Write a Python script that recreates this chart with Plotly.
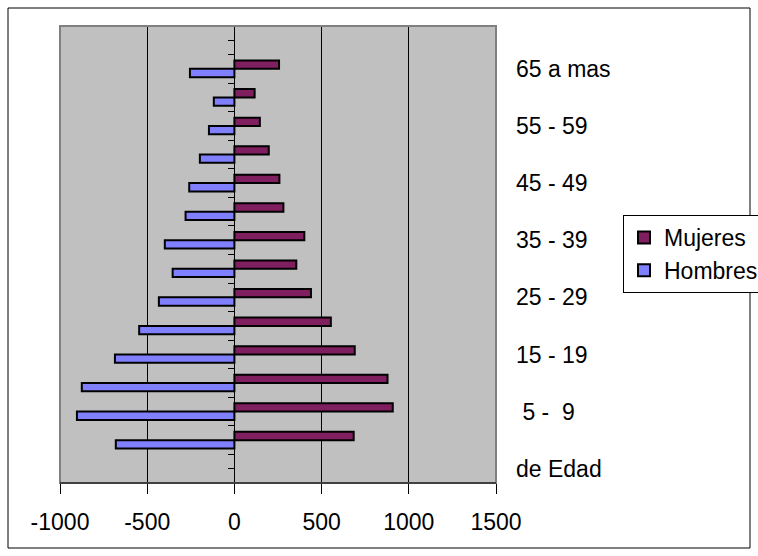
import plotly.graph_objects as go

categories = ["de Edad", " 0 -  4", " 5 -  9", "10 - 14", "15 - 19", "20 - 24",
              "25 - 29", "30 - 34", "35 - 39", "40 - 44", "45 - 49", "50 - 54",
              "55 - 59", "60 - 64", "65 a mas"]
mujeres = [None, 684, 908, 878, 690, 553, 439, 355, 401, 281, 258, 197, 146, 116, 256]
hombres = [None, -680, -903, -875, -685, -546, -433, -354, -399, -280, -259, -198, -146, -118, -255]
shown_labels = ["de Edad", " 5 -  9", "15 - 19", "25 - 29", "35 - 39", "45 - 49", "55 - 59", "65 a mas"]
x_ticks = [-1000, -500, 0, 500, 1000, 1500]
x_tick_text = ["-1000", "-500", "0", "500", "1000", "1500"]

def nb(s):
    return s.replace(" ", "\u00a0")

cats = [nb(c) for c in categories]
labels = [nb(c) for c in shown_labels]

FONT = "Liberation Sans, Arial, sans-serif"
FS = 23

fig = go.Figure()
fig.add_trace(go.Bar(y=cats, x=hombres, orientation="h", name="Hombres",
                     marker=dict(color="#8080FF", line=dict(color="black", width=2))))
fig.add_trace(go.Bar(y=cats, x=mujeres, orientation="h", name="Mujeres",
                     marker=dict(color="#801F60", line=dict(color="black", width=2))))
# helper trace for the tick-mark axis
fig.add_trace(go.Scatter(x=[0], y=[0], yaxis="y2", mode="markers",
                         marker=dict(opacity=0), showlegend=False, hoverinfo="skip"))

L, R, T, B = 60, 262, 26, 73
W, H = 758, 556
pw, ph = W - L - R, H - T - B

def px(x):
    return (x - L) / pw

def py(y):
    return (H - B - y) / ph

fig.update_layout(
    width=W, height=H,
    margin=dict(l=L, r=R, t=T, b=B, pad=0, autoexpand=False),
    paper_bgcolor="white", plot_bgcolor="#C0C0C0",
    barmode="group", bargap=0.42, bargroupgap=0,
    font=dict(family=FONT, size=FS, color="black"),
    showlegend=True,
    legend=dict(x=px(623), y=py(215), xanchor="left", yanchor="top",
                traceorder="reversed", bgcolor="white", bordercolor="black",
                borderwidth=1, font=dict(family=FONT, size=FS, color="black"),
                tracegroupgap=0),
    xaxis=dict(range=[-1000, 1500], tickvals=x_ticks, ticktext=x_tick_text,
               showgrid=True, gridcolor="black", gridwidth=1, zeroline=True,
               zerolinecolor="black", zerolinewidth=1, ticks="outside", ticklen=10,
               tickcolor="black", tickwidth=1, showline=False, fixedrange=True,
               ticklabelstandoff=8,
               tickfont=dict(family=FONT, size=FS, color="black")),
    yaxis=dict(type="category", categoryorder="array", categoryarray=cats,
               range=[-0.5, 15.5], side="right", tickvals=labels, ticktext=labels,
               ticks="", showgrid=False, zeroline=False, showline=False,
               ticklabelstandoff=19, fixedrange=True,
               tickfont=dict(family=FONT, size=FS, color="black")),
    yaxis2=dict(overlaying="y", anchor="free", position=0.4, side="left",
                range=[-0.5, 15.5], tickmode="linear", tick0=-0.5, dtick=0.5,
                ticks="outside", ticklen=6, tickcolor="black", tickwidth=1,
                showticklabels=False, showgrid=False, zeroline=False,
                showline=True, linecolor="black", linewidth=1, fixedrange=True),
    shapes=[
        dict(type="rect", xref="paper", yref="paper", x0=0, x1=1, y0=0, y1=1,
             line=dict(color="#808080", width=2), layer="above"),
        dict(type="line", xref="paper", yref="paper", x0=0, x1=1, y0=0, y1=0,
             line=dict(color="black", width=1), layer="above"),
        dict(type="rect", xref="paper", yref="paper", x0=px(8), x1=px(750),
             y0=py(548), y1=py(8), line=dict(color="black", width=1), layer="above"),
    ],
)

fig.write_html("out.html")
